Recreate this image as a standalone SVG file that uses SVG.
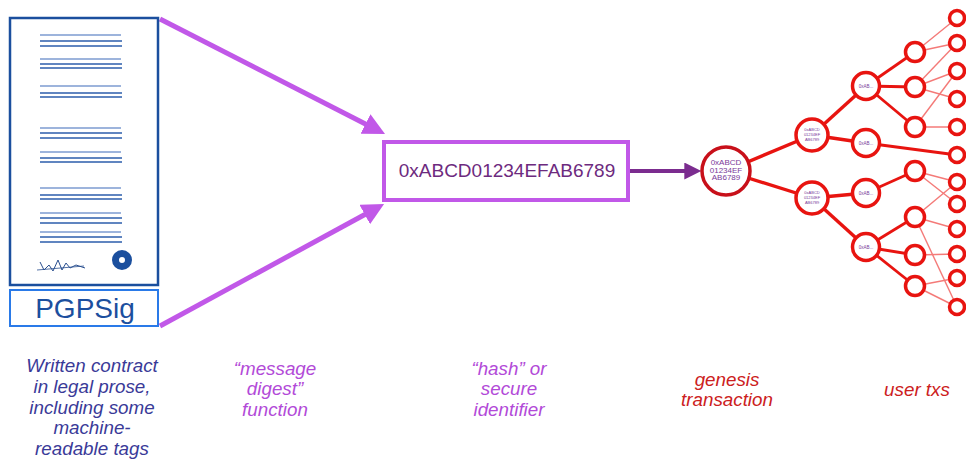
<svg xmlns="http://www.w3.org/2000/svg" width="966" height="460" viewBox="0 0 966 460">
<style>
.doc-line{stroke:#2b5cab;stroke-width:1.4}
.doc-line-l{stroke:#7d9bd0;stroke-width:1.4}
.lbl{font-family:"Liberation Sans",Arial,sans-serif;font-style:italic;font-size:18.8px;text-anchor:middle}
.tx{fill:#fff;stroke:#e81410;stroke-width:3.5}
.tiny{font-family:"Liberation Sans",Arial,sans-serif;fill:#7a3a9a;text-anchor:middle}
.thick{stroke:#e81410;stroke-width:3.4;fill:none}
.mid{stroke:#e81410;stroke-width:2.8;fill:none}
.thin{stroke:#f47a78;stroke-width:1.4;fill:none}
.purple{stroke:#c158e8;stroke-width:5;fill:none}
</style>
<defs>
<marker id="ahP" viewBox="0 0 10 10" refX="1" refY="5" markerWidth="22" markerHeight="22" markerUnits="userSpaceOnUse" orient="auto">
<path d="M0,0 L10,5 L0,10 z" fill="#c158e8"/>
</marker>
<marker id="ahD" viewBox="0 0 10 10" refX="1" refY="5" markerWidth="19" markerHeight="17" markerUnits="userSpaceOnUse" orient="auto">
<path d="M0,0 L10,5 L0,10 z" fill="#7b2c8f"/>
</marker>
</defs>
<rect width="966" height="460" fill="#fff"/>

<g id="connectors">
<line class="purple" x1="160" y1="19" x2="367.4" y2="125" marker-end="url(#ahP)"/>
<line class="purple" x1="160" y1="326" x2="366.7" y2="213.5" marker-end="url(#ahP)"/>
<line x1="630" y1="171" x2="686" y2="171" stroke="#7b2c8f" stroke-width="4" marker-end="url(#ahD)"/>
<line class="thick" x1="726" y1="171" x2="812" y2="135"/>
<line class="thick" x1="726" y1="171" x2="812" y2="198"/>
<line class="thick" x1="812" y1="135" x2="866" y2="86"/>
<line class="thick" x1="812" y1="135" x2="866" y2="143"/>
<line class="thick" x1="812" y1="198" x2="866" y2="193"/>
<line class="thick" x1="812" y1="198" x2="866" y2="247"/>
<line class="mid" x1="866" y1="86" x2="915" y2="52"/>
<line class="mid" x1="866" y1="86" x2="915" y2="87"/>
<line class="mid" x1="866" y1="86" x2="915" y2="127"/>
<line class="mid" x1="866" y1="143" x2="957" y2="155"/>
<line class="mid" x1="866" y1="193" x2="915" y2="171"/>
<line class="mid" x1="866" y1="247" x2="915" y2="217"/>
<line class="mid" x1="866" y1="247" x2="915" y2="255"/>
<line class="mid" x1="866" y1="247" x2="915" y2="286"/>
<line class="thin" x1="915" y1="52" x2="957" y2="18"/>
<line class="thin" x1="915" y1="52" x2="957" y2="43"/>
<line class="thin" x1="915" y1="87" x2="957" y2="43"/>
<line class="thin" x1="915" y1="87" x2="957" y2="71"/>
<line class="thin" x1="915" y1="87" x2="957" y2="99"/>
<line class="thin" x1="915" y1="127" x2="957" y2="71"/>
<line class="thin" x1="915" y1="127" x2="957" y2="127"/>
<line class="thin" x1="915" y1="171" x2="957" y2="182"/>
<line class="thin" x1="915" y1="171" x2="957" y2="204"/>
<line class="thin" x1="915" y1="217" x2="957" y2="182"/>
<line class="thin" x1="915" y1="217" x2="957" y2="229"/>
<line class="thin" x1="915" y1="217" x2="957" y2="307"/>
<line class="thin" x1="915" y1="255" x2="957" y2="254"/>
<line class="thin" x1="915" y1="286" x2="957" y2="278"/>
<line class="thin" x1="915" y1="286" x2="957" y2="307"/>
</g>

<g id="contract">
<rect x="10" y="18" width="148" height="267" fill="#fff" stroke="#1b4f9e" stroke-width="2.5"/>
<g>
<line class="doc-line-l" x1="40" y1="35" x2="121" y2="35"/><line class="doc-line" x1="40" y1="41" x2="122" y2="41"/><line class="doc-line" x1="40" y1="46" x2="122" y2="46"/>
<line class="doc-line-l" x1="40" y1="59" x2="121" y2="59"/><line class="doc-line" x1="40" y1="64" x2="122" y2="64"/><line class="doc-line" x1="40" y1="68" x2="122" y2="68"/>
<line class="doc-line-l" x1="40" y1="86" x2="121" y2="86"/><line class="doc-line" x1="40" y1="93" x2="122" y2="93"/><line class="doc-line" x1="40" y1="97" x2="122" y2="97"/>
<line class="doc-line-l" x1="40" y1="128" x2="121" y2="128"/><line class="doc-line" x1="40" y1="133" x2="122" y2="133"/><line class="doc-line" x1="40" y1="138" x2="122" y2="138"/>
<line class="doc-line-l" x1="40" y1="152" x2="121" y2="152"/><line class="doc-line" x1="40" y1="158" x2="122" y2="158"/><line class="doc-line" x1="40" y1="162" x2="122" y2="162"/>
<line class="doc-line-l" x1="40" y1="188" x2="121" y2="188"/><line class="doc-line" x1="40" y1="195" x2="122" y2="195"/><line class="doc-line" x1="40" y1="199" x2="122" y2="199"/>
<line class="doc-line-l" x1="40" y1="213" x2="121" y2="213"/><line class="doc-line" x1="40" y1="218" x2="122" y2="218"/><line class="doc-line" x1="40" y1="223" x2="122" y2="223"/>
<line class="doc-line-l" x1="40" y1="232" x2="121" y2="232"/><line class="doc-line" x1="40" y1="237" x2="122" y2="237"/><line class="doc-line" x1="40" y1="242" x2="122" y2="242"/>
</g>
<polyline points="40,262 44,270 49,265 53,271 58,260 62,270 66,263 70,268 76,265 85,268" fill="none" stroke="#2a4f8f" stroke-width="1"/>
<line x1="37" y1="270" x2="84" y2="266" stroke="#2a4f8f" stroke-width="0.8"/>
<circle cx="122" cy="260" r="6.5" fill="none" stroke="#1b4f9e" stroke-width="7"/>
</g>

<g id="pgpsig">
<rect x="10" y="290" width="148" height="36" fill="#fff" stroke="#2a7ae8" stroke-width="2"/>
<text x="85" y="318" font-family="'Liberation Sans',Arial,sans-serif" font-size="28" fill="#1c4f9e" text-anchor="middle">PGPSig</text>
</g>

<g id="hash">
<rect x="384" y="142" width="244" height="58" fill="#fff" stroke="#c158e8" stroke-width="4"/>
<text x="507" y="177" font-family="'Liberation Sans',Arial,sans-serif" font-size="19" fill="#6d2a7e" text-anchor="middle">0xABCD01234EFAB6789</text>
</g>

<g id="genesis">
<circle cx="726" cy="171" r="24" fill="#fff" stroke="#c8101a" stroke-width="3.5"/>
<text class="tiny" font-size="8" x="726" y="165">0xABCD</text>
<text class="tiny" font-size="8" x="726" y="172.5">01234EF</text>
<text class="tiny" font-size="8" x="726" y="180">AB6789</text>
</g>

<g id="tx-1a"><circle class="tx" cx="812" cy="135" r="16"/>
<text class="tiny" font-size="4" x="812" y="131">0xABCD</text><text class="tiny" font-size="4" x="812" y="136">01234EF</text><text class="tiny" font-size="4" x="812" y="141">AB6789</text></g>
<g id="tx-1b"><circle class="tx" cx="812" cy="198" r="16"/>
<text class="tiny" font-size="4" x="812" y="194">0xABCD</text><text class="tiny" font-size="4" x="812" y="199">01234EF</text><text class="tiny" font-size="4" x="812" y="204">AB6789</text></g>
<g id="tx-2a"><circle class="tx" cx="866" cy="86" r="13.5"/><text class="tiny" font-size="4.5" x="866" y="88">0xAB...</text></g>
<g id="tx-2b"><circle class="tx" cx="866" cy="143" r="13.5"/><text class="tiny" font-size="4.5" x="866" y="145">0xAB...</text></g>
<g id="tx-2c"><circle class="tx" cx="866" cy="193" r="13.5"/><text class="tiny" font-size="4.5" x="866" y="195">0xAB...</text></g>
<g id="tx-2d"><circle class="tx" cx="866" cy="247" r="13.5"/><text class="tiny" font-size="4.5" x="866" y="249">0xAB...</text></g>

<g id="tx-3a"><circle class="tx" cx="915" cy="52" r="9.5"/></g>
<g id="tx-3b"><circle class="tx" cx="915" cy="87" r="9.5"/></g>
<g id="tx-3c"><circle class="tx" cx="915" cy="127" r="9.5"/></g>
<g id="tx-3d"><circle class="tx" cx="915" cy="171" r="9.5"/></g>
<g id="tx-3e"><circle class="tx" cx="915" cy="217" r="9.5"/></g>
<g id="tx-3f"><circle class="tx" cx="915" cy="255" r="9.5"/></g>
<g id="tx-3g"><circle class="tx" cx="915" cy="286" r="9.5"/></g>

<g id="tx-4a"><circle class="tx" cx="957" cy="18" r="7.5"/></g>
<g id="tx-4b"><circle class="tx" cx="957" cy="43" r="7.5"/></g>
<g id="tx-4c"><circle class="tx" cx="957" cy="71" r="7.5"/></g>
<g id="tx-4d"><circle class="tx" cx="957" cy="99" r="7.5"/></g>
<g id="tx-4e"><circle class="tx" cx="957" cy="127" r="7.5"/></g>
<g id="tx-4f"><circle class="tx" cx="957" cy="155" r="7.5"/></g>
<g id="tx-4g"><circle class="tx" cx="957" cy="182" r="7.5"/></g>
<g id="tx-4h"><circle class="tx" cx="957" cy="204" r="7.5"/></g>
<g id="tx-4i"><circle class="tx" cx="957" cy="229" r="7.5"/></g>
<g id="tx-4j"><circle class="tx" cx="957" cy="254" r="7.5"/></g>
<g id="tx-4k"><circle class="tx" cx="957" cy="278" r="7.5"/></g>
<g id="tx-4l"><circle class="tx" cx="957" cy="307" r="7.5"/></g>

<g id="labels">
<text class="lbl" fill="#3a3a98" x="92" y="372">Written contract</text>
<text class="lbl" fill="#3a3a98" x="92" y="393">in legal prose,</text>
<text class="lbl" fill="#3a3a98" x="92" y="414">including some</text>
<text class="lbl" fill="#3a3a98" x="92" y="434">machine-</text>
<text class="lbl" fill="#3a3a98" x="92" y="455">readable tags</text>
<text class="lbl" fill="#b24ad8" x="275" y="375">“message</text>
<text class="lbl" fill="#b24ad8" x="275" y="395">digest”</text>
<text class="lbl" fill="#b24ad8" x="275" y="416">function</text>
<text class="lbl" fill="#b24ad8" x="509" y="375">“hash” or</text>
<text class="lbl" fill="#b24ad8" x="509" y="395">secure</text>
<text class="lbl" fill="#b24ad8" x="509" y="416">identifier</text>
<text class="lbl" fill="#cc2020" x="727" y="386">genesis</text>
<text class="lbl" fill="#cc2020" x="727" y="406">transaction</text>
<text class="lbl" fill="#cc2020" x="917" y="396">user txs</text>
</g>
</svg>
